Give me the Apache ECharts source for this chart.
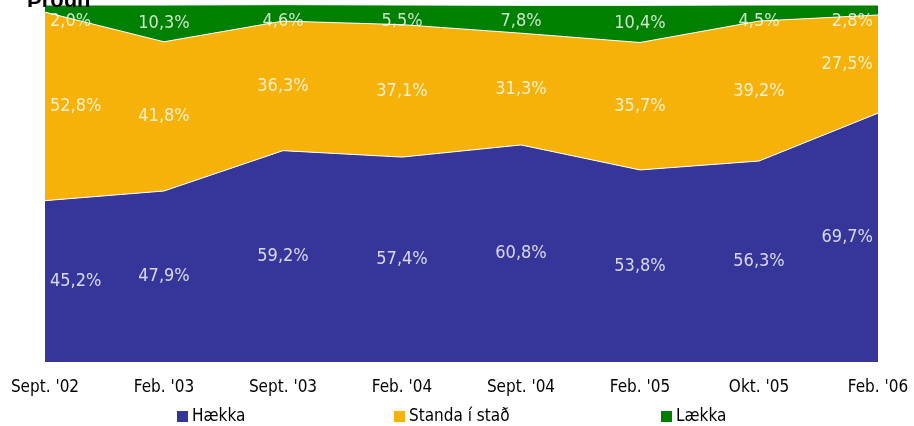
<!DOCTYPE html>
<html>
<head>
<meta charset="utf-8">
<script src="https://cdn.jsdelivr.net/npm/echarts@6/dist/echarts.min.js"></script>
<style>
  html, body { margin: 0; padding: 0; background: #fff; }
  #chart { width: 914px; height: 426px; }
</style>
</head>
<body>
<div id="chart"></div>
<script>
// tölur lesnar af myndinni
const categories = ["Sept. '02", "Feb. '03", "Sept. '03", "Feb. '04", "Sept. '04", "Feb. '05", "Okt. '05", "Feb. '06"];
const haekka = [45.2, 47.9, 59.2, 57.4, 60.8, 53.8, 56.3, 69.7];
const standa = [52.8, 41.8, 36.3, 37.1, 31.3, 35.7, 39.2, 27.5];
const laekka = [2.0, 10.3, 4.6, 5.5, 7.8, 10.4, 4.5, 2.8];

const FONT = "'DejaVu Sans Condensed', 'Liberation Sans Narrow', 'Arial Narrow', sans-serif";
const colors = { haekka: "#36369a", standa: "#f7b20a", laekka: "#008000" };

const fmt = v => v.toFixed(1).replace(".", ",") + "%";

// labels sit in the middle of each band, end ones pulled inside the plot
function labelItem(i, y, v) {
  const item = { value: [categories[i], y, v] };
  if (i === 0) item.label = { align: "left", offset: [5, 0] };
  if (i === categories.length - 1) item.label = { align: "right", offset: [-5, 0] };
  return item;
}
const labH = haekka.map((v, i) => labelItem(i, v / 2, v));
const labS = standa.map((v, i) => labelItem(i, haekka[i] + v / 2, v));
const labL = laekka.map((v, i) => labelItem(i, 100 - Math.max(v, 9) / 2, v));

function area(name, data, color) {
  return {
    name: name,
    type: "line",
    stack: "total",
    data: data,
    showSymbol: false,
    symbol: "none",
    lineStyle: { color: "#fff", width: 1 },
    itemStyle: { color: color },
    areaStyle: { color: color, opacity: 1 },
    emphasis: { disabled: true },
    z: 2
  };
}

function labels(data) {
  return {
    type: "scatter",
    data: data,
    symbolSize: 0,
    silent: true,
    clip: false,
    z: 5,
    label: {
      show: true,
      position: "inside",
      color: "#fff",
      fontFamily: FONT,
      fontSize: 18,
      formatter: p => fmt(p.data.value[2])
    }
  };
}

function legendAt(name, left) {
  return {
    data: [name],
    left: left,
    top: 403,
    icon: "rect",
    itemWidth: 11,
    itemHeight: 11,
    itemGap: 0,
    selectedMode: false,
    textStyle: { fontFamily: FONT, fontSize: 17, color: "#000", padding: [0, 0, 0, -1] }
  };
}

const myChart = echarts.init(document.getElementById("chart"));
const option = {
  animation: false,
  title: {
    text: "Þróun",
    left: 22,
    top: -15,
    textStyle: { fontFamily: "'Liberation Sans', Arial, sans-serif", fontSize: 22, fontWeight: "bold", color: "#000" }
  },
  grid: { left: 45, right: 36, top: 5, bottom: 64 },
  legend: [
    legendAt("Hækka", 172),
    legendAt("Standa í stað", 389),
    legendAt("Lækka", 656)
  ],
  xAxis: {
    type: "category",
    data: categories,
    boundaryGap: false,
    axisLine: { show: false },
    axisTick: { show: false },
    axisLabel: { color: "#000", fontFamily: FONT, fontSize: 17, margin: 17 }
  },
  yAxis: {
    type: "value",
    min: 0,
    max: 100,
    show: false,
    splitLine: { show: false }
  },
  series: [
    area("Hækka", haekka, colors.haekka),
    area("Standa í stað", standa, colors.standa),
    area("Lækka", laekka, colors.laekka),
    labels(labH),
    labels(labS),
    labels(labL)
  ]
};
option && myChart.setOption(option);
</script>
</body>
</html>
